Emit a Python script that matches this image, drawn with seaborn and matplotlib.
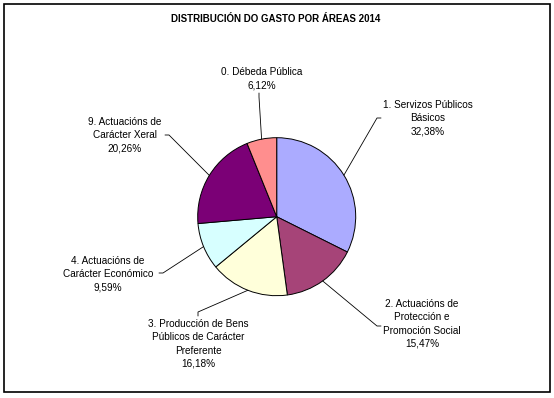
import numpy as np
import seaborn as sns
import matplotlib.pyplot as plt
from matplotlib.patches import Rectangle

# data (clockwise from 12 o'clock)
categories = [
    "1. Servizos Públicos\nBásicos",
    "2. Actuacións de\nProtección e\nPromoción Social",
    "3. Producción de Bens\nPúblicos de Carácter\nPreferente",
    "4. Actuacións de\nCarácter Económico",
    "9. Actuacións de\nCarácter Xeral",
    "0. Débeda Pública",
]
shares = [32.38, 15.47, 16.18, 9.59, 20.26, 6.12]
slice_colors = ["#ABABFF", "#A64478", "#FFFFDA", "#D7FFFF", "#7B0076", "#FF8E8E"]

# label layout (pixel coords, y measured from top)
label_xy = [(428, 118), (422, 324), (198, 344), (108, 274), (125, 135), (262, 79)]
line_end = [(377, 118), (377, 326), (198, 312), (163, 273), (169, 135), (259, 97)]
tick_end = [(381, 118), (381, 326), (198, 316), (159, 273), (165, 135), (259, 93)]

W, H = 554, 398
center = (276.7, 216.7)
radius = 79

sns.set_theme(style="white")
plt.rcParams['font.family'] = ['Liberation Sans', 'DejaVu Sans']

fig = plt.figure(figsize=(W / 100, H / 100), dpi=100)
ax = fig.add_axes([0, 0, 1, 1])

# pie in pixel coordinates (y flipped so the picture reads top-down)
wedges, _ = ax.pie(shares, colors=slice_colors, startangle=90, counterclock=False,
                   center=(center[0], H - center[1]), radius=radius, frame=True,
                   wedgeprops=dict(edgecolor="black", linewidth=0.7))
ax.set_xlim(0, W)
ax.set_ylim(0, H)
ax.set_aspect('equal')
ax.axis('off')

# leader lines from middle of each wedge edge to its label
for w, cat, v, (lx, ly), (ex, ey), (tx, ty) in zip(wedges, categories, shares,
                                                    label_xy, line_end, tick_end):
    mid = np.deg2rad((w.theta1 + w.theta2) / 2)
    px = w.center[0] + w.r * np.cos(mid)
    py = w.center[1] + w.r * np.sin(mid)
    ax.plot([px, ex, tx], [py, H - ey, H - ty], color="black", lw=0.6)
    txt = cat + "\n" + f"{v:.2f}".replace(".", ",") + "%"
    ax.text(lx, H - ly, txt, ha="center", va="center", fontsize=7.2,
            linespacing=1.38, color="black")

ax.text(276, H - 19, "DISTRIBUCIÓN DO GASTO POR ÁREAS 2014", ha="center", va="center",
        fontsize=7, fontweight="bold", color="black")

# chart area border
ax.add_patch(Rectangle((3.5, H - 391.5), 546, 388, fill=False, edgecolor="black", lw=1.2))

fig.savefig("out.png", dpi=100)
